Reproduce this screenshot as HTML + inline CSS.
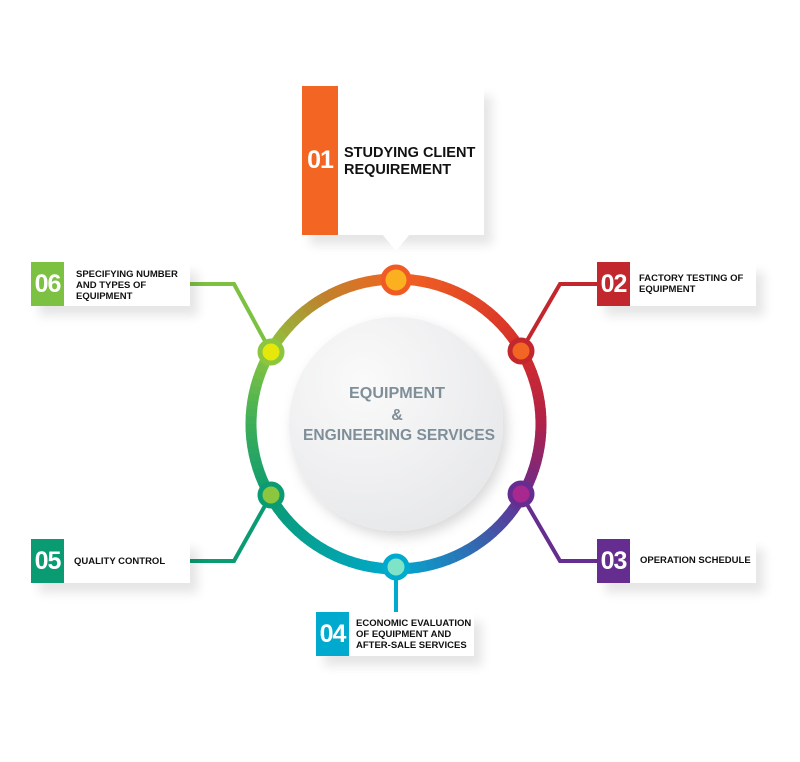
<!DOCTYPE html>
<html><head><meta charset="utf-8"><style>
body{margin:0;background:#fff;width:800px;height:762px;position:relative;overflow:hidden;font-family:"Liberation Sans",sans-serif}
.b{position:absolute;background:#fff;box-shadow:8px 10px 10px rgba(0,0,0,0.10)}
.n{position:absolute;color:#fff;font-weight:bold;display:flex;align-items:center;justify-content:center;font-size:25px;letter-spacing:-1px}
.t{position:absolute;font-weight:bold;color:#111;font-size:9.5px;line-height:11px}
</style></head><body>
<svg width="800" height="762" style="position:absolute;left:0;top:0">
<defs>
<radialGradient id="ig" cx="0.35" cy="0.3" r="0.8"><stop offset="0" stop-color="#fafafa"/><stop offset="1" stop-color="#e6e7e9"/></radialGradient>
<filter id="sh" x="-30%" y="-30%" width="160%" height="160%"><feDropShadow dx="4" dy="6" stdDeviation="6" flood-opacity="0.15"/></filter>
</defs>
<polyline points="190,284 234,284 271,352" fill="none" stroke="#7cc142" stroke-width="4"/>
<polyline points="190,561 234,561 271,495" fill="none" stroke="#0a9b72" stroke-width="4"/>
<polyline points="597,284 560,284 521,351" fill="none" stroke="#c1272d" stroke-width="4"/>
<polyline points="597,561 560,561 521,494" fill="none" stroke="#662d91" stroke-width="4"/>
<line x1="396" y1="575" x2="396" y2="613" stroke="#00a9ce" stroke-width="4"/>
<g id="ring" fill="none" stroke-width="11"></g>
<circle cx="396" cy="424" r="107" fill="url(#ig)" filter="url(#sh)"/>
<g stroke-width="5">
<circle cx="396" cy="280" r="13" fill="#fbb01f" stroke="#f05a24"/>
<circle cx="521" cy="351" r="11" fill="#f26522" stroke="#c1272d"/>
<circle cx="521" cy="494" r="11" fill="#a8288f" stroke="#662d91"/>
<circle cx="396" cy="567" r="11" fill="#7fe3c8" stroke="#00a9ce"/>
<circle cx="271" cy="495" r="11" fill="#8cc63f" stroke="#0a9b72"/>
<circle cx="271" cy="352" r="11" fill="#e5e80a" stroke="#8cc63f"/>
</g>
<g font-family="Liberation Sans" font-size="16" font-weight="bold" fill="#7f8f99" text-anchor="middle">
<text x="397" y="398" textLength="96" lengthAdjust="spacingAndGlyphs">EQUIPMENT</text>
<text x="397" y="420">&amp;</text>
<text x="399" y="440" textLength="192" lengthAdjust="spacingAndGlyphs">ENGINEERING SERVICES</text>
</g>
</svg>
<script>
(function(){
var stops=[[0,[242,101,34]],[60,[212,45,42]],[90,[176,32,74]],[120,[102,45,145]],[150,[46,111,181]],[180,[0,169,206]],[240,[10,155,114]],[270,[60,174,88]],[300,[140,198,63]],[330,[190,130,45]],[360,[242,101,34]]];
function col(a){for(var i=0;i<stops.length-1;i++){var s=stops[i],e=stops[i+1];if(a>=s[0]&&a<=e[0]){var t=(a-s[0])/(e[0]-s[0]);return 'rgb('+s[1].map(function(v,k){return Math.round(v+(e[1][k]-v)*t)}).join(',')+')';}}}
var g=document.getElementById('ring'),cx=396,cy=424,r=145,h='';
for(var a=0;a<360;a+=3){var a1=(a-90)*Math.PI/180,a2=(a+3.6-90)*Math.PI/180;
h+='<path d="M'+(cx+r*Math.cos(a1)).toFixed(2)+','+(cy+r*Math.sin(a1)).toFixed(2)+' A145,145 0 0 1 '+(cx+r*Math.cos(a2)).toFixed(2)+','+(cy+r*Math.sin(a2)).toFixed(2)+'" stroke="'+col(a+1.5)+'"/>';}
g.innerHTML=h;})();
</script>

<div class="b" style="left:302px;top:86px;width:182px;height:149px"></div>
<div class="n" style="left:302px;top:86px;width:36px;height:149px;background:#f26522">01</div>
<div class="t" style="left:344px;top:145px;font-size:14.5px;line-height:17px">STUDYING CLIENT<br>REQUIREMENT</div>
<svg width="800" height="762" style="position:absolute;left:0;top:0"><polygon points="382,234 410,234 396,251" fill="#fff"/></svg>

<div class="b" style="left:31px;top:262px;width:159px;height:44px"></div>
<div class="n" style="left:31px;top:262px;width:33px;height:44px;background:#7cc142">06</div>
<div class="t" style="left:76px;top:269px">SPECIFYING NUMBER<br>AND TYPES OF<br>EQUIPMENT</div>

<div class="b" style="left:31px;top:539px;width:159px;height:44px"></div>
<div class="n" style="left:31px;top:539px;width:33px;height:44px;background:#0a9b72">05</div>
<div class="t" style="left:74px;top:556px">QUALITY CONTROL</div>

<div class="b" style="left:597px;top:262px;width:159px;height:44px"></div>
<div class="n" style="left:597px;top:262px;width:33px;height:44px;background:#c1272d">02</div>
<div class="t" style="left:639px;top:273px">FACTORY TESTING OF<br>EQUIPMENT</div>

<div class="b" style="left:597px;top:539px;width:159px;height:44px"></div>
<div class="n" style="left:597px;top:539px;width:33px;height:44px;background:#662d91">03</div>
<div class="t" style="left:640px;top:555px">OPERATION SCHEDULE</div>

<div class="b" style="left:316px;top:612px;width:158px;height:44px"></div>
<div class="n" style="left:316px;top:612px;width:33px;height:44px;background:#00a9ce">04</div>
<div class="t" style="left:356px;top:618px">ECONOMIC EVALUATION<br>OF EQUIPMENT AND<br>AFTER-SALE SERVICES</div>
</body></html>
